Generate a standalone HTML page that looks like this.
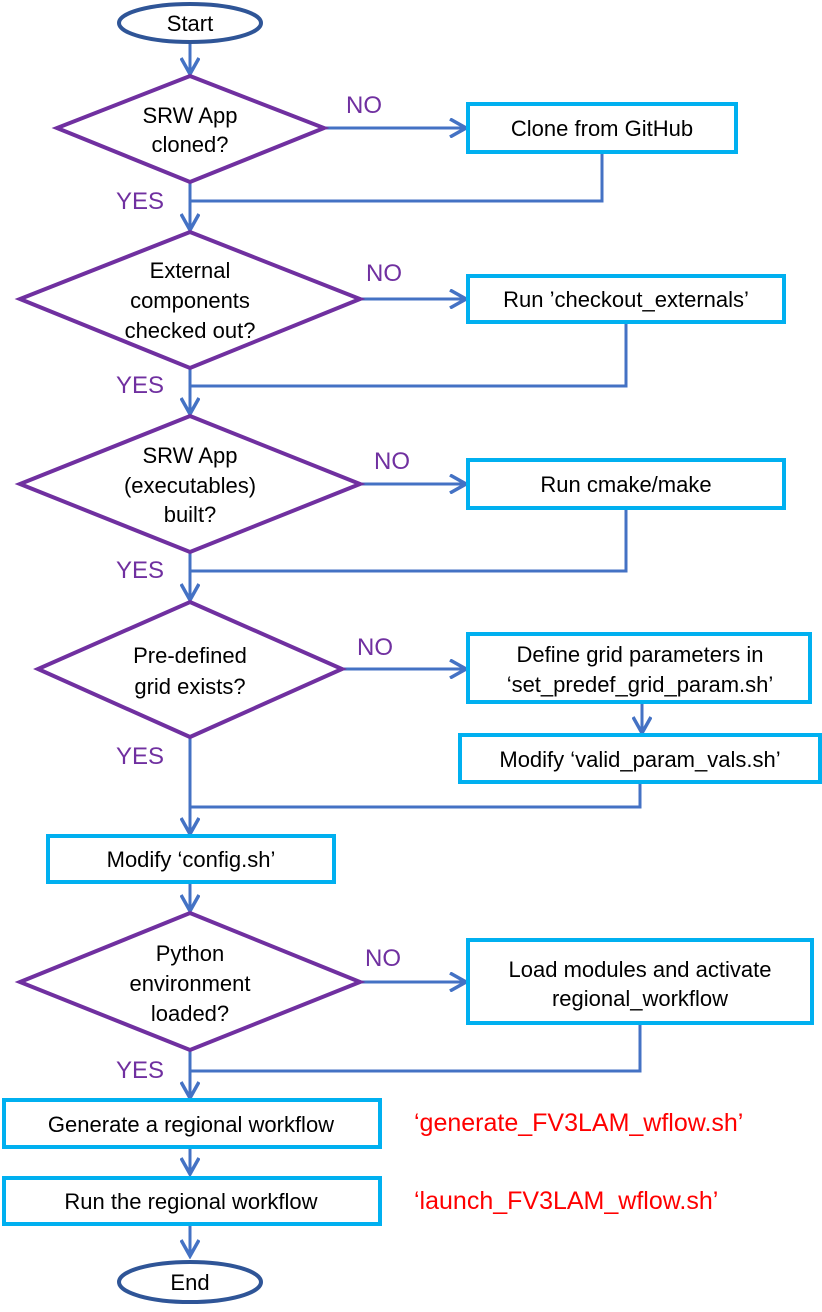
<!DOCTYPE html>
<html><head><meta charset="utf-8"><style>
html,body{margin:0;padding:0;background:#fff;}
svg{display:block;}
text{font-family:"Liberation Sans",sans-serif;}
.t{font-size:22px;fill:#000;text-anchor:middle;}
.l{font-size:24px;fill:#7030a0;}
.r{font-size:25px;fill:#ff0000;}
.d{fill:#fff;stroke:#7030a0;stroke-width:4;}
.b{fill:#fff;stroke:#00b0f0;stroke-width:4;}
.c{fill:none;stroke:#4472c4;stroke-width:3;}
.e{fill:#fff;stroke:#2f5597;stroke-width:4;}
</style></head><body>
<svg width="822" height="1312" viewBox="0 0 822 1312" xmlns="http://www.w3.org/2000/svg">
<defs>
<marker id="m" markerWidth="20" markerHeight="20" refX="17" refY="10" orient="auto" markerUnits="userSpaceOnUse" viewBox="0 0 20 20"><path d="M1,1 L17,10 L1,19" fill="none" stroke="#4472c4" stroke-width="3.5"/></marker></defs>

<!-- connectors -->
<line class="c" x1="190" y1="43" x2="190" y2="74" marker-end="url(#m)"/>
<line class="c" x1="324" y1="128" x2="466" y2="128" marker-end="url(#m)"/>
<polyline class="c" points="602,152 602,201 190,201"/>
<line class="c" x1="190" y1="182" x2="190" y2="230" marker-end="url(#m)"/>
<line class="c" x1="360" y1="299" x2="466" y2="299" marker-end="url(#m)"/>
<polyline class="c" points="626,322 626,386 190,386"/>
<line class="c" x1="190" y1="368" x2="190" y2="414" marker-end="url(#m)"/>
<line class="c" x1="360" y1="484" x2="466" y2="484" marker-end="url(#m)"/>
<polyline class="c" points="626,508 626,571 190,571"/>
<line class="c" x1="190" y1="552" x2="190" y2="600" marker-end="url(#m)"/>
<line class="c" x1="342" y1="669" x2="466" y2="669" marker-end="url(#m)"/>
<line class="c" x1="642" y1="702" x2="642" y2="733" marker-end="url(#m)"/>
<polyline class="c" points="640,782 640,807 190,807"/>
<line class="c" x1="190" y1="737" x2="190" y2="834" marker-end="url(#m)"/>
<line class="c" x1="190" y1="882" x2="190" y2="911" marker-end="url(#m)"/>
<line class="c" x1="360" y1="982" x2="466" y2="982" marker-end="url(#m)"/>
<polyline class="c" points="640,1023 640,1071 190,1071"/>
<line class="c" x1="190" y1="1050" x2="190" y2="1098" marker-end="url(#m)"/>
<line class="c" x1="190" y1="1147" x2="190" y2="1174" marker-end="url(#m)"/>
<line class="c" x1="190" y1="1224" x2="190" y2="1256" marker-end="url(#m)"/>

<!-- shapes -->
<ellipse class="e" cx="190" cy="23" rx="71" ry="19"/>
<text class="t" x="190" y="31">Start</text>

<polygon class="d" points="190,76 324,128 190,182 57,128"/>
<text class="t" x="190" y="123">SRW App</text>
<text class="t" x="190" y="152">cloned?</text>
<text class="l" x="346" y="113">NO</text>
<rect class="b" x="468" y="104" width="268" height="48"/>
<text class="t" x="602" y="136">Clone from GitHub</text>
<text class="l" x="116" y="209">YES</text>

<polygon class="d" points="190,232 360,299 190,368 20,299"/>
<text class="t" x="190" y="278">External</text>
<text class="t" x="190" y="308">components</text>
<text class="t" x="190" y="338">checked out?</text>
<text class="l" x="366" y="281">NO</text>
<rect class="b" x="468" y="276" width="316" height="46"/>
<text class="t" x="626" y="307">Run ’checkout_externals’</text>
<text class="l" x="116" y="393">YES</text>

<polygon class="d" points="190,416 360,484 190,552 20,484"/>
<text class="t" x="190" y="463">SRW App</text>
<text class="t" x="190" y="493">(executables)</text>
<text class="t" x="190" y="522">built?</text>
<text class="l" x="374" y="469">NO</text>
<rect class="b" x="468" y="460" width="316" height="48"/>
<text class="t" x="626" y="492">Run cmake/make</text>
<text class="l" x="116" y="578">YES</text>

<polygon class="d" points="190,602 342,669 190,737 38,669"/>
<text class="t" x="190" y="663">Pre-defined</text>
<text class="t" x="190" y="694">grid exists?</text>
<text class="l" x="357" y="655">NO</text>
<rect class="b" x="468" y="634" width="342" height="68"/>
<text class="t" x="640" y="662">Define grid parameters in</text>
<text class="t" x="640" y="692">‘set_predef_grid_param.sh’</text>
<rect class="b" x="460" y="735" width="360" height="47"/>
<text class="t" x="640" y="767">Modify ‘valid_param_vals.sh’</text>
<text class="l" x="116" y="764">YES</text>

<rect class="b" x="48" y="836" width="286" height="46"/>
<text class="t" x="191" y="867">Modify ‘config.sh’</text>

<polygon class="d" points="190,913 360,982 190,1050 20,982"/>
<text class="t" x="190" y="961">Python</text>
<text class="t" x="190" y="991">environment</text>
<text class="t" x="190" y="1021">loaded?</text>
<text class="l" x="365" y="966">NO</text>
<rect class="b" x="468" y="940" width="344" height="83"/>
<text class="t" x="640" y="977">Load modules and activate</text>
<text class="t" x="640" y="1006">regional_workflow</text>
<text class="l" x="116" y="1078">YES</text>

<rect class="b" x="4" y="1100" width="376" height="47"/>
<text class="t" x="191" y="1132">Generate a regional workflow</text>
<text class="r" x="414" y="1131">‘generate_FV3LAM_wflow.sh’</text>
<rect class="b" x="4" y="1178" width="376" height="46"/>
<text class="t" x="191" y="1209">Run the regional workflow</text>
<text class="r" x="414" y="1209">‘launch_FV3LAM_wflow.sh’</text>

<ellipse class="e" cx="190" cy="1282" rx="71" ry="20"/>
<text class="t" x="190" y="1290">End</text>
</svg>
</body></html>
